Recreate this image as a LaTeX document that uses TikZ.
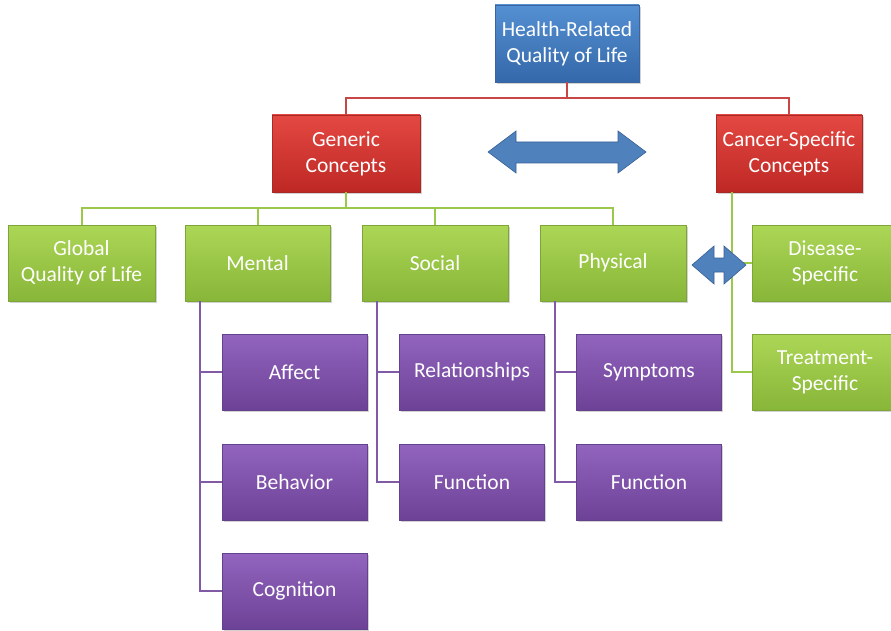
\documentclass[tikz,border=0pt]{standalone}
\usepackage{fontspec}
\setmainfont{Carlito}
\usetikzlibrary{shadows}
\definecolor{bluetop}{RGB}{84,144,210}
\definecolor{bluebot}{RGB}{52,104,170}
\definecolor{blueedge}{RGB}{60,100,160}
\definecolor{redtop}{RGB}{228,72,66}
\definecolor{redbot}{RGB}{190,40,36}
\definecolor{rededge}{RGB}{170,40,38}
\definecolor{greentop}{RGB}{172,214,86}
\definecolor{greenbot}{RGB}{136,182,56}
\definecolor{greenedge}{RGB}{125,165,55}
\definecolor{purptop}{RGB}{146,100,190}
\definecolor{purpbot}{RGB}{108,66,150}
\definecolor{purpedge}{RGB}{100,65,140}
\definecolor{redln}{RGB}{200,70,70}
\definecolor{greenln}{RGB}{155,200,75}
\definecolor{purpln}{RGB}{128,90,165}
\definecolor{arrowfill}{RGB}{79,129,189}
\definecolor{arrowedge}{RGB}{56,96,150}
\begin{document}
\begin{tikzpicture}[x=1pt,y=-1pt,
  cbox/.style={rectangle, inner sep=0pt, align=center, text=white,
    font=\fontsize{21.5}{26}\selectfont, minimum width=146pt, minimum height=77pt,
    drop shadow={opacity=0.35, shadow xshift=1.5pt, shadow yshift=-2pt}},
  bluebox/.style={cbox, top color=bluetop, bottom color=bluebot, draw=blueedge, line width=0.6pt},
  redbox/.style={cbox, top color=redtop, bottom color=redbot, draw=rededge, line width=0.6pt},
  greenbox/.style={cbox, top color=greentop, bottom color=greenbot, draw=greenedge, line width=0.6pt, minimum height=76pt},
  purpbox/.style={cbox, top color=purptop, bottom color=purpbot, draw=purpedge, line width=0.6pt, minimum height=76pt, minimum width=145pt},
  redline/.style={draw=redln, line width=2pt},
  greenline/.style={draw=greenln, line width=2pt},
  purpline/.style={draw=purpln, line width=2pt},
  dblarrow/.style={fill=arrowfill, draw=arrowedge, line width=0.6pt, line join=miter}
]
\useasboundingbox (0,0) rectangle (891,631);
\fill[white] (0,0) rectangle (891,631);

% nodes
\node[bluebox, minimum width=144pt] (hrq) at (567,43.5) {Health-Related\\Quality of Life};
\node[redbox, minimum width=148pt] (gen) at (346,153.5) {Generic\\Concepts};
\node[redbox] (can) at (789,153.5) {Cancer-Specific\\Concepts};

\node[greenbox, minimum width=147pt] (glob) at (81.5,263) {Global\\Quality of Life};
\node[greenbox, minimum width=145pt] (ment) at (257.5,263) {Mental};
\node[greenbox] (soc) at (435,263) {Social};
\node[greenbox] (phys) at (613,263) {Physical};
\node[greenbox] (dis) at (825,263) {Disease-\\Specific};
\node[greenbox] (treat) at (825,372) {Treatment-\\Specific};

\node[purpbox] (aff) at (294.5,372) {Affect};
\node[purpbox] (beh) at (294.5,482) {Behavior};
\node[purpbox] (cog) at (294.5,591) {Cognition};
\node[purpbox] (rel) at (472,372) {Relationships};
\node[purpbox] (fun1) at (472,482) {Function};
\node[purpbox] (sym) at (649,372) {Symptoms};
\node[purpbox] (fun2) at (649,482) {Function};

% connectors
\draw[redline] (hrq.south) -- ++(0,16) -| (gen.north);
\draw[redline] (hrq.south) -- ++(0,16) -| (can.north);

\draw[greenline] (gen.south) -- ++(0,16) -| (glob.north);
\draw[greenline] (gen.south) -- ++(0,16) -| (ment.north);
\draw[greenline] (gen.south) -- ++(0,16) -| (soc.north);
\draw[greenline] (gen.south) -- ++(0,16) -| (phys.north);

\coordinate (canl) at ([xshift=16pt]can.south west);
\draw[greenline] (canl) |- (dis.west);
\draw[greenline] (canl) |- (treat.west);

\coordinate (mentl) at ([xshift=15pt]ment.south west);
\draw[purpline] (mentl) |- (aff.west);
\draw[purpline] (mentl) |- (beh.west);
\draw[purpline] (mentl) |- (cog.west);

\coordinate (socl) at ([xshift=15pt]soc.south west);
\draw[purpline] (socl) |- (rel.west);
\draw[purpline] (socl) |- (fun1.west);

\coordinate (physl) at ([xshift=15pt]phys.south west);
\draw[purpline] (physl) |- (sym.west);
\draw[purpline] (physl) |- (fun2.west);

% big double arrow
\path[dblarrow] (488,152) -- (516,131) -- (516,142) -- (618,142) -- (618,131)
  -- (646,152) -- (618,173) -- (618,163) -- (516,163) -- (516,173) -- cycle;

% small double arrow
\path[dblarrow] (692,265) -- (714,246) -- (714,258) -- (724,258) -- (724,246)
  -- (746,265) -- (724,284) -- (724,272) -- (714,272) -- (714,284) -- cycle;
\end{tikzpicture}
\end{document}
